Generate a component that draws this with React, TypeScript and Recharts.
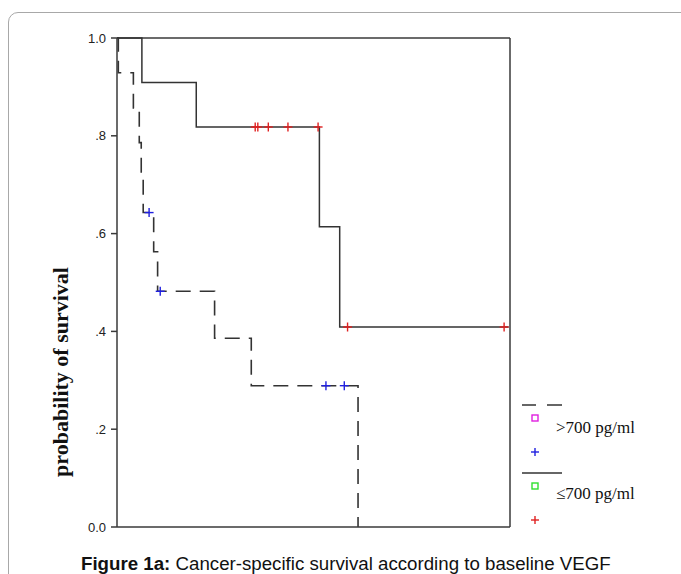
import React from 'react';
import {
  ComposedChart,
  Line,
  Scatter,
  XAxis,
  YAxis,
  ReferenceLine,
} from 'recharts';

// >700 pg/ml group (dashed): step times and survival after each step
const highTimes = [0, 0.2, 2.5, 3.4, 3.7, 4.0, 5.6, 6.2, 14.9, 20.5, 36.8];
const highSurv = [1, 0.929, 0.857, 0.786, 0.714, 0.643, 0.563, 0.482, 0.386, 0.289, 0];
const highCensorTimes = [4.9, 6.6, 31.9, 34.7];
const highCensorSurv = [0.643, 0.482, 0.289, 0.289];

// <=700 pg/ml group (solid)
const lowTimes = [0, 3.8, 12.1, 30.9, 34.0, 59.8];
const lowSurv = [1, 0.909, 0.818, 0.614, 0.409, 0.409];
const lowCensorTimes = [21.1, 21.5, 23.1, 26.1, 30.7, 35.2, 59.1];
const lowCensorSurv = [0.818, 0.818, 0.818, 0.818, 0.818, 0.409, 0.409];

const xTicks = [0, 10, 20, 30, 40, 50, 60];
const yTicks = [0, 0.2, 0.4, 0.6, 0.8, 1];

const zip = (ts: number[], ss: number[]) => ts.map((t, i) => ({ t, s: ss[i] }));

const highData = zip(highTimes, highSurv);
const lowData = zip(lowTimes, lowSurv);
const highCensor = zip(highCensorTimes, highCensorSurv);
const lowCensor = zip(lowCensorTimes, lowCensorSurv);

const AXIS = '#3a3a3a';

function formatY(v: number): string {
  if (v === 0) return '0.0';
  if (v === 1) return '1.0';
  return v.toFixed(1).replace(/^0/, '');
}

function cross(color: string) {
  return (props: any) => {
    const { cx, cy } = props;
    if (cx == null || cy == null) return <g />;
    return (
      <g>
        <line x1={cx - 4.5} x2={cx + 4.5} y1={cy} y2={cy} stroke={color} strokeWidth={1.4} />
        <line x1={cx} x2={cx} y1={cy - 4.5} y2={cy + 4.5} stroke={color} strokeWidth={1.4} />
      </g>
    );
  };
}

function YLabel() {
  return (
    <text
      x={68}
      y={372}
      transform="rotate(-90 68 372)"
      textAnchor="middle"
      fontFamily="'Liberation Serif', 'Times New Roman', serif"
      fontWeight="bold"
      fontSize={22}
      fill="#111"
    >
      probability of survival
    </text>
  );
}

function SurvivalLegend() {
  const serif = "'Liberation Serif', 'Times New Roman', serif";
  return (
    <svg
      width={170}
      height={140}
      style={{ position: 'absolute', left: 500, top: 390 }}
    >
      <line x1={22} x2={36} y1={15} y2={15} stroke="#333" strokeWidth={1.5} />
      <line x1={47} x2={62} y1={15} y2={15} stroke="#333" strokeWidth={1.5} />
      <rect x={32} y={25} width={6} height={6} fill="none" stroke="#e020e0" strokeWidth={1.4} />
      <text x={56} y={43} fontFamily={serif} fontSize={17} fill="#111">
        &gt;700 pg/ml
      </text>
      <line x1={31} x2={39} y1={62} y2={62} stroke="#2020e0" strokeWidth={1.4} />
      <line x1={35} x2={35} y1={58} y2={66} stroke="#2020e0" strokeWidth={1.4} />
      <line x1={22} x2={62} y1={83} y2={83} stroke="#333" strokeWidth={1.5} />
      <rect x={32} y={93} width={6} height={6} fill="none" stroke="#30e030" strokeWidth={1.4} />
      <text x={56} y={109} fontFamily={serif} fontSize={17} fill="#111">
        ≤700 pg/ml
      </text>
      <line x1={31} x2={39} y1={130} y2={130} stroke="#e02020" strokeWidth={1.4} />
      <line x1={35} x2={35} y1={126} y2={134} stroke="#e02020" strokeWidth={1.4} />
    </svg>
  );
}

export default function App() {
  return (
    <div
      style={{
        position: 'fixed',
        left: 0,
        top: 0,
        width: 681,
        height: 574,
        overflow: 'hidden',
        background: '#fff',
      }}
    >
      <div
        style={{
          position: 'absolute',
          left: 8,
          top: 12,
          width: 720,
          height: 620,
          border: '1px solid #a8a8a8',
          borderRadius: 10,
        }}
      />
      <ComposedChart
        width={681}
        height={574}
        margin={{ top: 38, right: 171, bottom: 17, left: 57 }}
        style={{ position: 'absolute', left: 0, top: 0 }}
      >
        <XAxis
          dataKey="t"
          type="number"
          domain={[0, 60]}
          ticks={xTicks}
          tick={false}
          tickSize={6}
          height={30}
          axisLine={{ stroke: AXIS, strokeWidth: 1.5 }}
          tickLine={{ stroke: AXIS, strokeWidth: 1.5 }}
          allowDataOverflow
        />
        <YAxis
          dataKey="s"
          type="number"
          domain={[0, 1]}
          ticks={yTicks}
          width={60}
          tickSize={6}
          tickMargin={5}
          tickFormatter={formatY}
          tick={{ fill: '#222', fontSize: 13, fontFamily: "'Liberation Sans', Arial, sans-serif" }}
          axisLine={{ stroke: AXIS, strokeWidth: 1.5 }}
          tickLine={{ stroke: AXIS, strokeWidth: 1.5 }}
          label={{ content: () => <YLabel /> }}
        />
        <ReferenceLine y={1} stroke={AXIS} strokeWidth={1.5} />
        <ReferenceLine x={60} stroke={AXIS} strokeWidth={1.5} />
        <Line
          data={lowData}
          dataKey="s"
          type="stepAfter"
          stroke="#333"
          strokeWidth={1.5}
          dot={false}
          isAnimationActive={false}
        />
        <Line
          data={highData}
          dataKey="s"
          type="stepAfter"
          stroke="#333"
          strokeWidth={1.6}
          strokeDasharray="15 9"
          dot={false}
          isAnimationActive={false}
        />
        <Scatter
          data={highCensor}
          dataKey="s"
          shape={cross('#2020e0')}
          isAnimationActive={false}
        />
        <Scatter
          data={lowCensor}
          dataKey="s"
          shape={cross('#e02020')}
          isAnimationActive={false}
        />
      </ComposedChart>
      <SurvivalLegend />
      <div
        style={{
          position: 'absolute',
          left: 81,
          top: 554,
          fontFamily: "'Liberation Sans', Arial, sans-serif",
          fontSize: 18.7,
          lineHeight: '20px',
          color: '#111',
          whiteSpace: 'nowrap',
        }}
      >
        <b>Figure 1a:</b> Cancer-specific survival according to baseline VEGF
      </div>
    </div>
  );
}
